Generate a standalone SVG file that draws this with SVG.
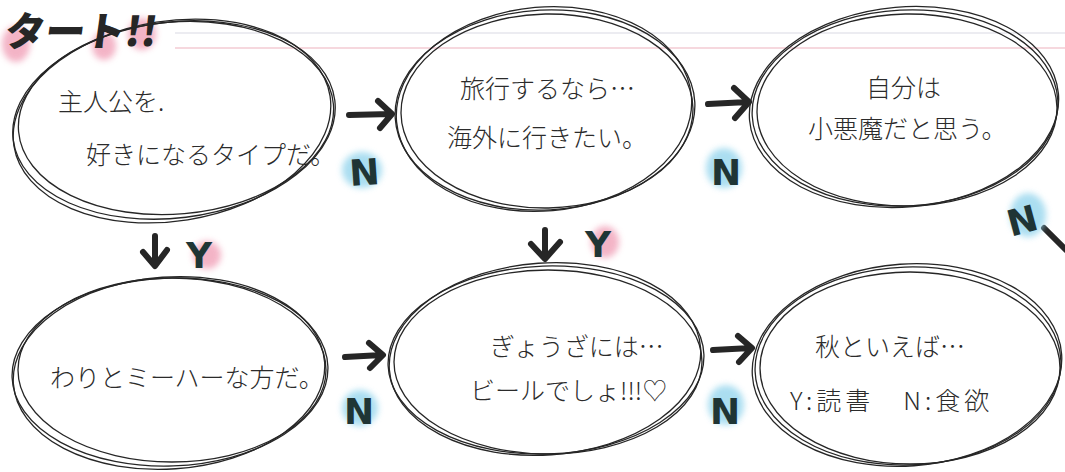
<svg xmlns="http://www.w3.org/2000/svg" width="1065" height="472" viewBox="0 0 1065 472">
<style>
.bg{fill:#ffffff}
.rule1{stroke:#e6e6ec;stroke-width:1.5}
.rule2{stroke:#f3cbd3;stroke-width:1.5}
.ring{fill:none;stroke:#262626;stroke-width:1.3}
.txt{font-family:"Noto Sans CJK JP","Noto Sans CJK SC",sans-serif;font-weight:300;fill:#2b2b2b;font-size:25px}
.lbl{font-family:"DejaVu Sans","Liberation Sans",sans-serif;font-weight:bold;fill:#1f3535;font-size:36px}
.title{font-family:"Noto Sans CJK JP",sans-serif;font-weight:900;fill:#262626;font-size:40px}
.arw{fill:none;stroke:#262626;stroke-width:6;stroke-linecap:round;stroke-linejoin:round}
.blue{fill:#8fd3ec;opacity:0.75}
.pink{fill:#f09bb4;opacity:0.75}
</style>
<defs>
<filter id="soft" x="-50%" y="-50%" width="200%" height="200%"><feGaussianBlur stdDeviation="3"/></filter>
</defs>
<rect class="bg" x="0" y="0" width="1065" height="472"/>
<line class="rule1" x1="175" y1="33" x2="1065" y2="33"/>
<line class="rule2" x1="175" y1="48" x2="1065" y2="48"/>

<g id="title">
<ellipse class="pink" cx="16" cy="44" rx="14" ry="18" filter="url(#soft)"/>
<ellipse class="pink" cx="104" cy="46" rx="12" ry="14" filter="url(#soft)"/>
<ellipse class="pink" cx="142" cy="34" rx="14" ry="16" filter="url(#soft)"/>
<text class="title" x="10" y="46" transform="skewX(-8)">タート!!</text>
</g>

<g id="n1">
<ellipse class="ring" cx="174" cy="120" rx="162" ry="98" transform="rotate(-7 174 120)"/>
<ellipse class="ring" cx="176" cy="118" rx="158" ry="96" transform="rotate(-5 176 118)"/>
<ellipse class="ring" cx="172" cy="121" rx="160" ry="100" transform="rotate(-9 172 121)"/>
<text class="txt" x="58" y="111">主人公を.</text>
<text class="txt" x="86" y="164" font-size="22">好きになるタイプだ。</text>
</g>

<g id="n2">
<ellipse class="ring" cx="545" cy="110" rx="150" ry="100" transform="rotate(-3 545 110)"/>
<ellipse class="ring" cx="547" cy="111" rx="146" ry="97" transform="rotate(-1 547 111)"/>
<ellipse class="ring" cx="544" cy="109" rx="148" ry="102" transform="rotate(-5 544 109)"/>
<text class="txt" x="460" y="98" font-size="27">旅行するなら…</text>
<text class="txt" x="447" y="147" font-size="27">海外に行きたい。</text>
</g>

<g id="n3">
<ellipse class="ring" cx="905" cy="108" rx="153" ry="98" transform="rotate(-3 905 108)"/>
<ellipse class="ring" cx="907" cy="110" rx="150" ry="96" transform="rotate(-1 907 110)"/>
<ellipse class="ring" cx="904" cy="107" rx="155" ry="100" transform="rotate(-5 904 107)"/>
<text class="txt" x="866" y="97" font-size="27">自分は</text>
<text class="txt" x="808" y="138" font-size="27">小悪魔だと思う。</text>
</g>

<g id="n4">
<ellipse class="ring" cx="170" cy="372" rx="158" ry="94" transform="rotate(-2 170 372)"/>
<ellipse class="ring" cx="172" cy="370" rx="154" ry="92"/>
<ellipse class="ring" cx="169" cy="373" rx="156" ry="96" transform="rotate(-4 169 373)"/>
<text class="txt" x="50" y="387" font-size="23">わりとミーハーな方だ。</text>
</g>

<g id="n5">
<ellipse class="ring" cx="546" cy="360" rx="158" ry="94" transform="rotate(-2 546 360)"/>
<ellipse class="ring" cx="548" cy="362" rx="154" ry="92"/>
<ellipse class="ring" cx="545" cy="359" rx="156" ry="96" transform="rotate(-4 545 359)"/>
<text class="txt" x="490" y="356" font-size="22">ぎょうざには…</text>
<text class="txt" x="470" y="400" font-size="23">ビールでしょ!!!♡</text>
</g>

<g id="n6">
<ellipse class="ring" cx="908" cy="366" rx="153" ry="99" transform="rotate(-2 908 366)"/>
<ellipse class="ring" cx="910" cy="368" rx="150" ry="96"/>
<ellipse class="ring" cx="907" cy="365" rx="155" ry="101" transform="rotate(-4 907 365)"/>
<text class="txt" x="815" y="356" font-size="26">秋といえば…</text>
<text class="txt" x="790" y="410" font-size="30" letter-spacing="4">Y:読書　N:食欲</text>
</g>

<g id="connectors">
<path class="arw" d="M349 115 L391 114 M378 101 L392 114 L380 128"/>
<path class="arw" d="M708 104 L748 102 M734 88 L749 102 L735 118"/>
<path class="arw" d="M345 357 L382 355 M369 343 L383 355 L370 368"/>
<path class="arw" d="M713 350 L751 348 M738 336 L752 348 L739 362"/>
<path class="arw" d="M155 236 L155 265 M143 252 L155 266 L167 250"/>
<path class="arw" d="M545 230 L545 258 M531 244 L545 259 L560 242"/>
<path class="arw" d="M1044 228 L1066 250"/>
</g>

<g id="labels">
<ellipse class="blue" cx="362" cy="170" rx="20" ry="18" filter="url(#soft)"/>
<text class="lbl" x="349" y="185" transform="rotate(-4 363 168)">N</text>
<ellipse class="blue" cx="724" cy="168" rx="18" ry="20" filter="url(#soft)"/>
<text class="lbl" x="711" y="185">N</text>
<ellipse class="blue" cx="1028" cy="215" rx="18" ry="22" filter="url(#soft)"/>
<text class="lbl" x="1006" y="232" transform="rotate(-15 1027 215)">N</text>
<ellipse class="pink" cx="207" cy="255" rx="14" ry="14" filter="url(#soft)"/>
<text class="lbl" x="186" y="268" font-size="34">Y</text>
<ellipse class="pink" cx="605" cy="242" rx="14" ry="16" filter="url(#soft)"/>
<text class="lbl" x="585" y="257" font-size="36">Y</text>
<ellipse class="blue" cx="360" cy="408" rx="18" ry="18" filter="url(#soft)"/>
<text class="lbl" x="344" y="424">N</text>
<ellipse class="blue" cx="726" cy="405" rx="18" ry="20" filter="url(#soft)"/>
<text class="lbl" x="710" y="424">N</text>
</g>
</svg>
